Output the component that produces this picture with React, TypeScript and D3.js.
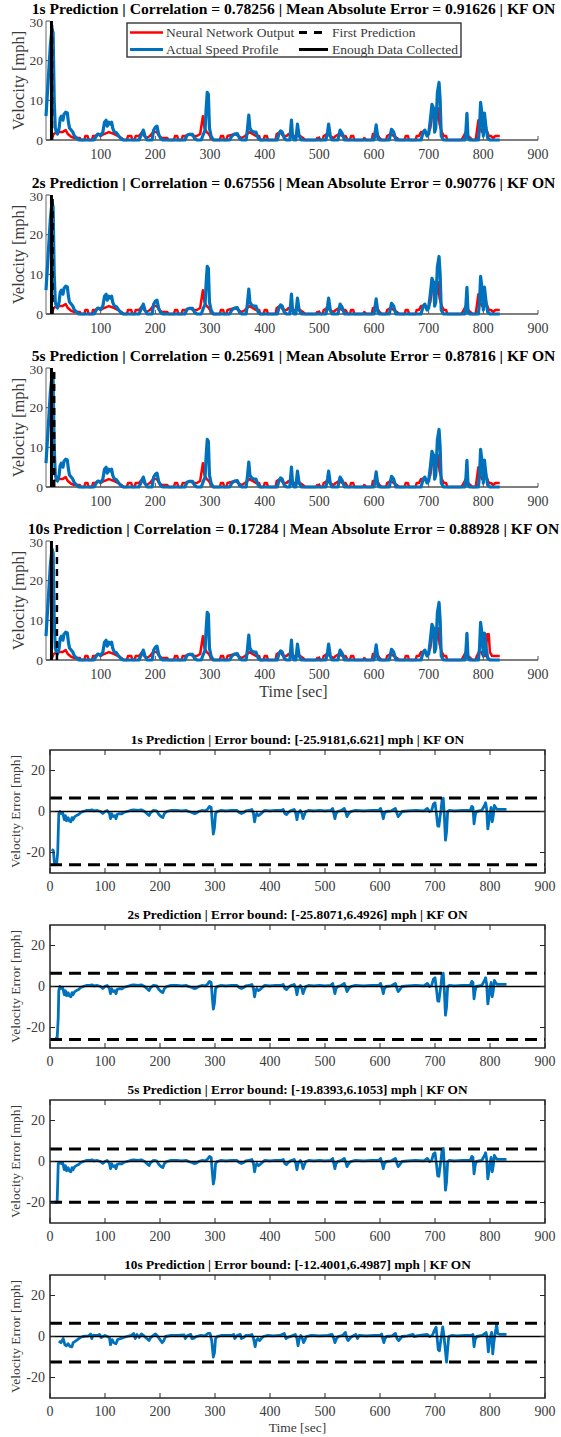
import React from "react";
import * as d3 from "d3";

type P = [number, number];

// ---------- DATA ----------
const horizons = ["1s", "2s", "5s", "10s"];
const correlations = ["0.78256", "0.67556", "0.25691", "0.17284"];
const maes = ["0.91626", "0.90776", "0.87816", "0.88928"];
const errLower = [-25.9181, -25.8071, -19.8393, -12.4001];
const errUpper = [6.621, 6.4926, 6.1053, 6.4987];
const enoughDataTime = 10;
const firstPredictionTimes = [11, 12, 15, 20];
const topXTicks = [100, 200, 300, 400, 500, 600, 700, 800, 900];
const topYTicks = [0, 10, 20, 30];
const errXTicks = [0, 100, 200, 300, 400, 500, 600, 700, 800, 900];
const errYTicks = [-20, 0, 20];

const actualSpeed: P[] = [
  [0, 6], [4, 15], [8, 24], [11, 28], [13, 27], [15, 10], [17, 3], [19, 2], [21, 1.5], [24, 3], [26, 5.5],
  [28, 6], [31, 5], [33, 6.5], [36, 7], [39, 6.8], [41, 4.5], [43, 3], [46, 2.5], [49, 2], [52, 1], [56, 0.5],
  [60, 0], [88, 0], [92, 1], [95, 1.5], [100, 1.2], [104, 2], [107, 4.5], [110, 5], [112, 3.5], [115, 4.5],
  [118, 4], [120, 4.5], [122, 3], [125, 2], [129, 1.8], [133, 1], [138, 0.2], [142, 0], [170, 0], [174, 1.2],
  [178, 2.5], [181, 1], [185, 0], [194, 0], [197, 2.5], [200, 3.2], [203, 3.5], [206, 1.5], [210, 0.3],
  [214, 0], [254, 0], [258, 1.2], [262, 1.4], [268, 1.4], [272, 0.4], [276, 0], [284, 0], [288, 1.5],
  [291, 2.5], [293, 8], [295, 12], [297, 11.5], [299, 3], [302, 1], [306, 0], [336, 0], [340, 1], [345, 1.5],
  [350, 1.6], [354, 0.4], [358, 0], [366, 0], [368, 2], [371, 6.3], [373, 3], [376, 2.3], [380, 2], [384, 2],
  [388, 0.5], [392, 0], [423, 0], [426, 1.5], [429, 2.3], [432, 2], [436, 0.4], [440, 0], [446, 0], [449, 5],
  [451, 1], [454, 0], [457, 0], [460, 4], [463, 1], [467, 0], [512, 0], [515, 2], [517, 4], [520, 1], [523, 0],
  [534, 0], [538, 2.5], [542, 1.6], [546, 0], [600, 0], [604, 3.8], [607, 0.5], [610, 0], [628, 0], [632, 2.7],
  [636, 2], [640, 0], [686, 0], [690, 2], [693, 2.5], [697, 1], [700, 1.5], [703, 5], [706, 9], [709, 8],
  [711, 2], [713, 3], [716, 12], [719, 14.5], [721, 10], [723, 1], [727, 0], [766, 0], [768, 2], [770, 6.7],
  [772, 0.5], [775, 0], [791, 0], [793, 3], [795, 9.5], [798, 6], [800, 1], [802, 6.8], [805, 3], [808, 0.5],
  [812, 0], [830, 0],
];

const nnOutputMain: P[] = [
  [11, 0.5], [14, 1.5], [20, 2], [30, 2], [36, 2.5], [40, 1.5], [46, 0.8], [52, 0.5], [62, 0.5], [64, 0],
  [70, 0], [72, 1], [76, 1], [78, 0], [84, 0], [86, 1], [90, 1], [95, 1.5], [100, 1], [106, 1.5], [115, 2],
  [125, 1.5], [132, 1], [138, 0.5], [142, 0], [148, 0], [150, 1], [156, 1], [158, 0], [162, 0], [164, 1],
  [170, 1], [176, 2], [180, 1], [184, 0.5], [190, 1], [196, 2], [203, 2], [207, 1], [212, 0.5], [222, 0.5],
  [224, 0], [234, 0], [236, 1], [240, 1], [242, 0], [248, 0], [250, 1], [256, 1], [262, 1.5], [270, 1],
  [276, 1], [282, 1.5], [287, 6], [290, 3], [294, 2], [298, 1.5], [302, 0.5], [306, 0], [318, 0], [320, 1],
  [324, 1], [326, 0], [330, 0], [332, 1], [346, 1.5], [352, 1], [358, 0.5], [364, 1], [368, 1.5], [372, 2],
  [378, 1.5], [384, 1], [390, 1], [392, 0], [398, 0], [400, 1], [404, 1], [406, 0], [420, 0], [422, 1.5],
  [428, 2], [434, 1], [440, 1], [444, 1.5], [448, 1.5], [452, 1], [456, 1], [460, 1.5], [465, 1], [470, 0.5],
  [474, 0], [494, 0], [496, 0.5], [500, 0.5], [502, 0], [506, 0], [508, 1], [514, 1.5], [520, 1], [526, 0.5],
  [530, 1], [536, 1.5], [542, 1], [548, 1], [552, 0], [556, 0], [558, 1], [562, 1], [564, 0], [580, 0],
  [582, 0.5], [586, 0], [596, 0], [598, 1.5], [606, 1.5], [610, 0.5], [614, 0], [622, 0], [624, 1], [630, 1.5],
  [636, 1], [642, 0.5], [646, 0], [656, 0], [658, 1], [662, 1], [664, 0], [676, 0], [678, 1], [682, 1],
  [686, 2], [692, 2], [696, 1.5], [700, 2], [703, 3], [706, 6], [710, 8], [714, 5], [717, 8], [720, 4],
  [724, 2], [728, 1], [732, 1], [734, 0], [760, 0], [764, 1], [768, 2], [772, 1], [776, 0.5], [780, 0],
];
const nnOutputTailShort: P[] = [
  [786, 0], [788, 2], [791, 5], [794, 3], [798, 2], [802, 2.5], [806, 2.5], [810, 1], [814, 1], [818, 0.5],
  [822, 1], [830, 1],
];
const nnOutputTailLong: P[] = [
  [786, 0], [788, 1], [792, 2], [796, 2], [800, 1], [804, 1], [807, 6.5], [810, 6.5], [812, 2], [816, 1],
  [822, 1], [830, 1],
];

const errStart1: P[] = [[3, -18.5], [6, -19], [8, -25], [12, -25.5], [14, -20], [16, -1], [18, 0]];
const errStart2: P[] = [[9, -25], [13, -25.5], [15, -15], [16, -2], [18, 0]];
const errStart5: P[] = [[8, -19.8], [13, -19.8], [15, -1], [18, -0.5]];
const errBody: P[] = [
  [20, -1], [23, -0.5], [26, -4], [28, -2], [30, -4.5], [33, -3], [35, -4.5], [38, -5], [40, -3], [42, -4],
  [45, -2.5], [48, -2], [52, -1.5], [56, -0.5], [60, 0], [66, 0.5], [72, 0.5], [76, 0.8], [80, 0.3], [86, 0.5],
  [92, 0], [96, -1], [100, 0], [104, 0.5], [108, -1], [110, -3.5], [112, -1], [115, -2.5], [118, -2],
  [120, -3.5], [122, -1.5], [126, -1], [130, -1.2], [134, -0.5], [140, 0], [146, 0.5], [152, 0.8], [160, 0.5],
  [166, 0.8], [172, 0], [176, -1], [180, -2], [183, -0.5], [188, 0.5], [194, 0.3], [198, -1.5], [202, -2.5],
  [205, -3], [208, -1], [212, 0], [220, 0.5], [230, 0.5], [240, 0.3], [248, 0.5], [252, 0], [258, -0.5],
  [262, -1], [266, -0.8], [270, 0], [276, 0.5], [282, 0.3], [286, 1], [290, 2.5], [293, 2], [295, -5],
  [297, -11], [299, -8], [301, -1], [304, 0], [310, 0.5], [320, 0.3], [330, 0.5], [340, 0.5], [344, -0.5],
  [348, -1], [352, -0.5], [356, 0.3], [362, 0.5], [367, 1], [370, -1], [372, -5], [374, -2], [376, -1],
  [379, -2], [382, -1.5], [386, -0.5], [390, 0.5], [400, 0.3], [410, 0.5], [420, 0.5], [424, 1], [427, -1],
  [430, -1.5], [433, -0.5], [437, 0.3], [444, 1], [447, -1], [449, -4], [451, -1], [455, 0.5], [458, -1],
  [460, -3.5], [462, -2], [465, 0], [470, 0.5], [480, 0.3], [490, 0.5], [500, 0.3], [510, 0.5], [514, 1.5],
  [516, -1], [518, -3.5], [520, -1], [523, 0], [530, 0.5], [535, 1.5], [538, -0.5], [540, -2.5], [543, -1],
  [547, 0], [555, 0.5], [570, 0.3], [585, 0.5], [598, 0.5], [601, 1.5], [604, -1], [606, -3.5], [608, -1],
  [611, 0], [620, 0.3], [628, 1.5], [631, -1], [633, -2.5], [636, -1.5], [640, 0], [650, 0.3], [665, 0.5],
  [680, 0.3], [686, 1.5], [690, 0], [694, 0.5], [697, 3.5], [700, 4.3], [703, -2], [705, -7], [707, -7.2],
  [709, -3], [711, 1], [713, 6], [715, 6.5], [717, -2], [719, -14], [721, -10], [723, 0], [726, 0.5],
  [735, 0.3], [750, 0.5], [764, 0.5], [767, 2.5], [769, 2], [771, -6], [773, -2], [775, 0], [785, 0.5],
  [790, 3], [792, 4.3], [794, 1], [796, -8.5], [798, -5], [800, -1], [802, 2], [804, -5], [806, -2], [808, 3],
  [810, 2], [813, 1], [820, 1], [830, 1],
];
const errTen: P[] = [
  [16, -2.2], [20, -3], [24, -1], [27, -4], [30, -4.5], [33, -3.5], [36, -4.8], [40, -5], [42, -3], [45, -2.5],
  [50, -1.5], [55, -0.5], [60, 0], [70, 0.3], [74, 1.2], [76, -1], [78, 0.5], [86, 0.5], [90, 1], [93, -0.5],
  [96, 0], [100, 0.5], [108, -0.5], [110, -4], [113, -1.5], [116, -3], [120, -3.5], [123, -1.5], [128, -1],
  [134, -0.5], [140, 0], [148, 0.5], [152, 1.5], [155, -1], [158, 1], [162, -0.5], [166, 1.2], [170, 0.5],
  [176, -1], [180, -2], [183, -0.5], [188, 0.5], [192, 1.2], [196, 0], [200, -1.5], [204, -3], [207, -2],
  [210, 0], [220, 0.5], [232, 0.5], [244, 0.8], [246, -1], [250, 0.5], [256, 1], [258, -1], [262, -0.8],
  [266, 0], [274, 0.5], [282, 0.3], [287, 1.5], [291, 1.5], [294, -2], [297, -10], [299, -8], [301, -1],
  [304, 0], [312, 0.5], [330, 0.5], [334, 1], [336, -1], [340, 0.5], [346, 1], [348, -1], [352, -0.5],
  [356, 0.5], [362, 0.5], [367, 1], [370, -1], [373, -5], [375, -2], [378, -1], [381, -2], [384, -1], [388, 0],
  [396, 0.5], [405, 0.3], [418, 0.5], [426, 1.5], [429, -1], [432, -0.5], [440, 0.3], [446, 1], [449, -1],
  [451, -4.5], [453, -1.5], [456, 0.5], [459, -1], [461, -3], [463, -2], [466, 0], [475, 0.5], [490, 0.3],
  [505, 0.5], [513, 1], [516, -1], [518, -3], [521, -1], [524, 0], [532, 0.5], [537, 2], [540, -1], [542, -2],
  [545, -1], [549, 0], [556, 1], [559, -1], [562, 0.5], [575, 0.3], [590, 0.5], [600, 0.5], [603, 1.2],
  [605, -1], [607, -3], [609, -1], [612, 0], [622, 0.3], [628, 1.5], [631, -1], [634, -2], [637, -1], [640, 0],
  [650, 0.3], [660, 1], [662, 0], [672, 0.5], [686, 1], [690, 0], [695, 0.5], [699, 3], [702, 4.5], [704, -1],
  [706, -6.5], [708, -7], [710, -3], [712, 1], [714, 4.7], [716, 1], [719, -7], [721, -12.5], [723, -6],
  [725, 0], [730, 0.5], [740, 0.3], [755, 0.5], [766, 0.5], [769, 1], [771, -5], [773, -1.5], [776, 0],
  [786, 0.5], [791, 1.5], [793, 2], [795, -1], [797, -7.5], [799, -3], [801, 0], [803, 2], [805, -8.5],
  [807, -3], [809, 1], [811, 4], [812, 6], [814, 1.5], [818, 1], [830, 1],
];

// ---------- BUILT SERIES ----------
const nnSeries: P[][] = [
  nnOutputMain.concat(nnOutputTailShort),
  nnOutputMain.concat(nnOutputTailShort),
  nnOutputMain.concat(nnOutputTailShort),
  nnOutputMain.concat(nnOutputTailLong),
];
const errSeries: P[][] = [
  errStart1.concat(errBody),
  errStart2.concat(errBody),
  errStart5.concat(errBody),
  errTen,
];

// ---------- STYLE ----------
const FONT = "Liberation Serif, Times New Roman, serif";
const RED = "#ff0000";
const BLUE = "#0072bd";
const AX = "#262626";
const TXT = "#3a3a3a";

const topPlotTops = [21, 195, 368, 541];
const topPlotH = 119;
const errPlotTops = [750, 925, 1100, 1275];
const errPlotH = 123;

const xTop = d3.scaleLinear().domain([0, 900]).range([46, 538]);
const xErr = d3.scaleLinear().domain([0, 900]).range([50, 545]);

function TopPanel({ i }: { i: number }) {
  const top = topPlotTops[i];
  const y = d3.scaleLinear().domain([0, 30]).range([top + topPlotH, top]);
  const line = d3.line<P>().x((d) => xTop(d[0])).y((d) => y(d[1]));
  const x0 = xTop.range()[0];
  const x1 = xTop.range()[1];
  const yb = y(0);
  const title = `${horizons[i]} Prediction | Correlation = ${correlations[i]} | Mean Absolute Error = ${maes[i]} | KF ON`;
  return (
    <g>
      <text x={293.5} y={top - 7} textAnchor="middle" style={{ fontFamily: FONT }} fontWeight="bold" fontSize={15.6} fill="#000">
        {title}
      </text>
      <line x1={x0} x2={x0} y1={top} y2={yb} stroke="#6a6a6a" strokeWidth={1} />
      <line x1={x0} x2={x1} y1={yb} y2={yb} stroke="#555" strokeWidth={1.5} />
      {topXTicks.map((t) => (
        <g key={t}>
          <line x1={xTop(t)} x2={xTop(t)} y1={yb} y2={yb - 4} stroke="#555" strokeWidth={1} />
          <text x={xTop(t)} y={yb + 18.5} textAnchor="middle" style={{ fontFamily: FONT }} fontSize={14} fill={TXT}>
            {t}
          </text>
        </g>
      ))}
      {topYTicks.map((t) => (
        <g key={t}>
          <line x1={x0} x2={x0 + 4} y1={y(t)} y2={y(t)} stroke="#555" strokeWidth={1} />
          <text x={x0 - 3} y={y(t)} dy={t === 30 ? "0.45em" : "0.35em"} textAnchor="end" style={{ fontFamily: FONT }} fontSize={13.5} fill={TXT}>
            {t}
          </text>
        </g>
      ))}
      <text transform={`translate(18,${top + topPlotH / 2}) rotate(-90)`} textAnchor="middle" dy="0.35em" style={{ fontFamily: FONT }} fontSize={16.5} fill={TXT}>
        Velocity [mph]
      </text>
      <path d={line(nnSeries[i]) || ""} fill="none" stroke={RED} strokeWidth={2.5} strokeLinejoin="round" />
      <path d={line(actualSpeed) || ""} fill="none" stroke={BLUE} strokeWidth={3.2} strokeLinejoin="round" />
      <line x1={xTop(firstPredictionTimes[i])} x2={xTop(firstPredictionTimes[i])} y1={y(0)} y2={y(30)} stroke="#000" strokeWidth={2.5} strokeDasharray="7,5" />
      <line x1={xTop(enoughDataTime)} x2={xTop(enoughDataTime)} y1={y(0)} y2={y(30)} stroke="#000" strokeWidth={3} />
      {i === 3 && (
        <text x={293.5} y={697} textAnchor="middle" style={{ fontFamily: FONT }} fontSize={16} fill={TXT}>
          Time [sec]
        </text>
      )}
    </g>
  );
}

function Legend() {
  const lx = 127, ly = 23, lw = 334, lh = 34;
  const r1 = 32.5, r2 = 49.5;
  return (
    <g style={{ fontFamily: FONT }}>
      <rect x={lx} y={ly} width={lw} height={lh} fill="#fff" stroke={AX} strokeWidth={1.3} />
      <line x1={130} x2={163} y1={r1} y2={r1} stroke={RED} strokeWidth={2.5} />
      <text x={166} y={r1} dy="0.35em" fontSize={13.5} fill={TXT}>Neural Network Output</text>
      <line x1={130} x2={163} y1={r2} y2={r2} stroke={BLUE} strokeWidth={3} />
      <text x={166} y={r2} dy="0.35em" fontSize={13.5} fill={TXT}>Actual Speed Profile</text>
      <line x1={299} x2={328} y1={r1} y2={r1} stroke="#000" strokeWidth={3} strokeDasharray="8,7" />
      <text x={332} y={r1} dy="0.35em" fontSize={13.5} fill={TXT}>First Prediction</text>
      <line x1={299} x2={328} y1={r2} y2={r2} stroke="#000" strokeWidth={3} />
      <text x={332} y={r2} dy="0.35em" fontSize={13.5} fill={TXT}>Enough Data Collected</text>
    </g>
  );
}

function ErrPanel({ i }: { i: number }) {
  const top = errPlotTops[i];
  const bottom = top + errPlotH;
  const y = d3.scaleLinear().domain([-30, 30]).range([bottom, top]);
  const line = d3.line<P>().x((d) => xErr(d[0])).y((d) => y(d[1]));
  const x0 = xErr.range()[0];
  const x1 = xErr.range()[1];
  const title = `${horizons[i]} Prediction | Error bound: [${errLower[i]},${errUpper[i]}] mph | KF ON`;
  const clipId = `clip-err-${i}`;
  return (
    <g style={{ fontFamily: FONT }}>
      <defs>
        <clipPath id={clipId}>
          <rect x={x0} y={top} width={x1 - x0} height={errPlotH} />
        </clipPath>
      </defs>
      <text x={(x0 + x1) / 2} y={top - 6} textAnchor="middle" fontWeight="bold" fontSize={13.3} fill="#000">
        {title}
      </text>
      <g clipPath={`url(#${clipId})`}>
        <path d={line(errSeries[i]) || ""} fill="none" stroke={BLUE} strokeWidth={2.8} strokeLinejoin="round" />
        <line x1={x0} x2={x1} y1={y(0)} y2={y(0)} stroke="#000" strokeWidth={1.3} />
        <line x1={x0} x2={x1} y1={y(errUpper[i])} y2={y(errUpper[i])} stroke="#000" strokeWidth={3} strokeDasharray="12,7" />
        <line x1={x0} x2={x1} y1={y(errLower[i])} y2={y(errLower[i])} stroke="#000" strokeWidth={3} strokeDasharray="12,7" />
      </g>
      <rect x={x0} y={top} width={x1 - x0} height={errPlotH} fill="none" stroke={AX} strokeWidth={1.5} />
      {errXTicks.map((t) => (
        <g key={t}>
          <line x1={xErr(t)} x2={xErr(t)} y1={bottom} y2={bottom - 5} stroke={AX} strokeWidth={1} />
          <line x1={xErr(t)} x2={xErr(t)} y1={top} y2={top + 5} stroke={AX} strokeWidth={1} />
          <text x={xErr(t)} y={bottom + 18} textAnchor="middle" fontSize={14} fill={TXT}>
            {t}
          </text>
        </g>
      ))}
      {errYTicks.map((t) => (
        <g key={t}>
          <line x1={x0} x2={x0 + 5} y1={y(t)} y2={y(t)} stroke={AX} strokeWidth={1} />
          <line x1={x1} x2={x1 - 5} y1={y(t)} y2={y(t)} stroke={AX} strokeWidth={1} />
          <text x={x0 - 5} y={y(t)} dy="0.35em" textAnchor="end" fontSize={14} fill={TXT}>
            {t}
          </text>
        </g>
      ))}
      <text transform={`translate(15,${top + errPlotH / 2}) rotate(-90)`} textAnchor="middle" dy="0.35em" fontSize={13.5} fill={TXT}>
        Velocity Error [mph]
      </text>
      {i === 3 && (
        <text x={(x0 + x1) / 2} y={bottom + 34} textAnchor="middle" fontSize={13.5} fill={TXT}>
          Time [sec]
        </text>
      )}
    </g>
  );
}

export default function App() {
  return (
    <svg width={561} height={1437} viewBox="0 0 561 1437" style={{ position: "absolute", left: 0, top: 0, background: "#fff" }}>
      <rect x={0} y={0} width={561} height={1437} fill="#fff" />
      {[0, 1, 2, 3].map((i) => (
        <TopPanel key={`t${i}`} i={i} />
      ))}
      <Legend />
      {[0, 1, 2, 3].map((i) => (
        <ErrPanel key={`e${i}`} i={i} />
      ))}
    </svg>
  );
}
